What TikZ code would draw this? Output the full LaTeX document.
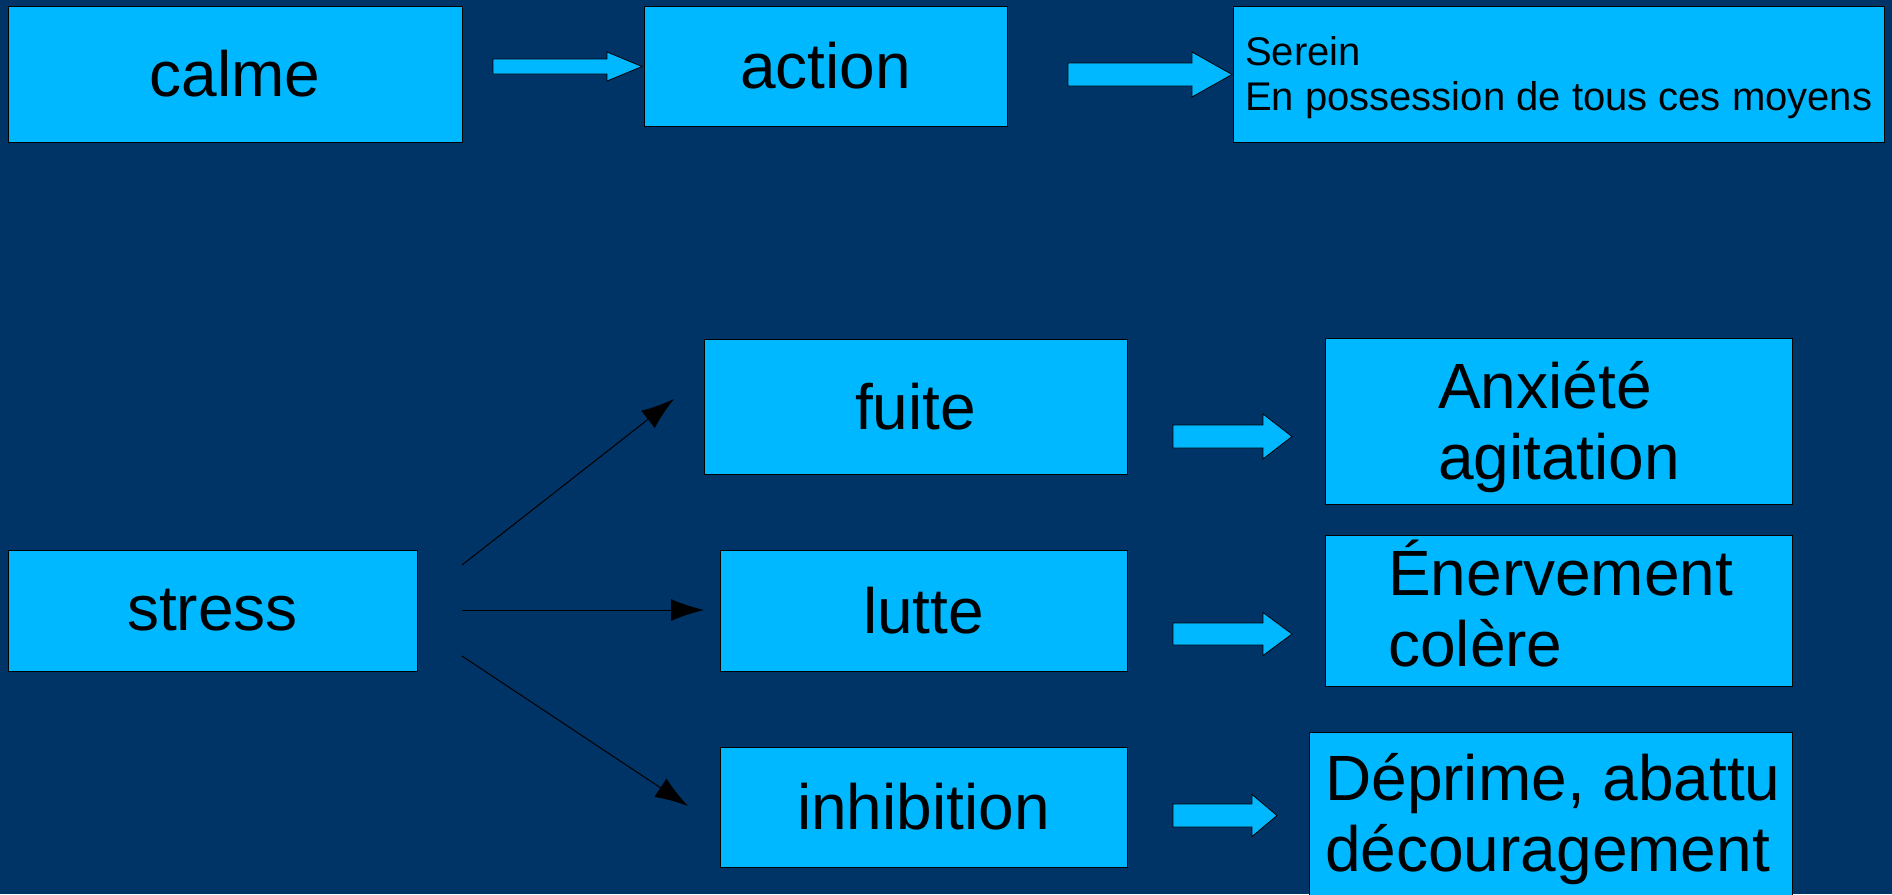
\documentclass[tikz,border=0pt]{standalone}
\usepackage{fontspec}
\setmainfont{Liberation Sans}
\usetikzlibrary{arrows.meta}
\definecolor{bg}{RGB}{0,51,102}
\definecolor{cyanbox}{RGB}{0,184,255}
\tikzset{
  box/.style={draw=black, line width=1pt, fill=cyanbox, inner sep=0pt},
  big/.style={font=\fontsize{64}{71}\selectfont},
  small/.style={font=\fontsize{40}{46}\selectfont},
  txt/.style={anchor=base west, inner sep=0pt},
  fat/.style={draw=black, line width=0.8pt, fill=cyanbox, line join=miter},
  thinarrow/.style={draw=black, line width=1pt, -{Latex[length=33pt,width=22pt]}},
}
\newcommand\fatarr[6]{%
  \draw[fat] (#1,{#4-#5}) -- (#3,{#4-#5}) -- (#3,{#4-#6}) -- (#2,#4) -- (#3,{#4+#6}) -- (#3,{#4+#5}) -- (#1,{#4+#5}) -- cycle;}
\begin{document}
\begin{tikzpicture}[x=1pt,y=-1pt]
  \useasboundingbox (0,0) rectangle (1892,894);
  \clip (0,0) rectangle (1892,894);
  \fill[bg] (0,0) rectangle (1892,894);

  % top row
  \node[box, big, minimum width=454pt, minimum height=136pt] (calme) at (235,74) {calme};
  \node[box, big, minimum width=363pt, minimum height=120pt] (action) at (825.5,66) {action};
  \node[box, minimum width=651pt, minimum height=136pt] (serein) at (1558.5,74) {};
  \node[txt, small] (serein1) at (1245,65) {Serein};
  \node[txt, small] (serein2) at (1245,110) {En possession de tous ces moyens};

  \fatarr{493}{642}{607}{66.5}{7.5}{14.5}
  \fatarr{1068}{1232}{1192}{74.5}{11.5}{22.5}

  % bottom part
  \node[box, big, minimum width=409pt, minimum height=121pt] (stress) at (212.5,610.5) {stress};
  \node[box, big, minimum width=423pt, minimum height=135pt] (fuite) at (915.5,406.5) {fuite};
  \node[box, big, minimum width=407pt, minimum height=121pt] (lutte) at (923.5,610.5) {lutte};
  \node[box, big, minimum width=407pt, minimum height=120pt] (inhib) at (923.5,807) {inhibition};

  \node[box, minimum width=467pt, minimum height=166pt] (anx) at (1558.5,421) {};
  \node[txt, big] (anx1) at (1438,408) {Anxiété};
  \node[txt, big] (anx2) at (1438,479) {agitation};
  \node[box, minimum width=467pt, minimum height=151pt] (ener) at (1558.5,610.5) {};
  \node[txt, big] (ener1) at (1388,595) {Énervement};
  \node[txt, big] (ener2) at (1388,666) {colère};
  \node[box, minimum width=483pt, minimum height=178pt] (dep) at (1550.5,821) {};
  \node[txt, big] (dep1) at (1325,800) {Déprime, abattu};
  \node[txt, big] (dep2) at (1325,871) {découragement};

  \fatarr{1173}{1292}{1263}{436.5}{11.5}{22.5}
  \fatarr{1173}{1292}{1263}{634}{11}{21.5}
  \fatarr{1173}{1277}{1252}{815.5}{11.5}{21}

  \coordinate (s1) at (462,565);
  \coordinate (s2) at (462,610);
  \coordinate (s3) at (462,656);
  \coordinate (t1) at (674,399);
  \coordinate (t2) at (704,610);
  \coordinate (t3) at (688,806);
  \draw[thinarrow] (s1) -- (t1);
  \draw[thinarrow] (s2) -- (t2);
  \draw[thinarrow] (s3) -- (t3);
\end{tikzpicture}
\end{document}
